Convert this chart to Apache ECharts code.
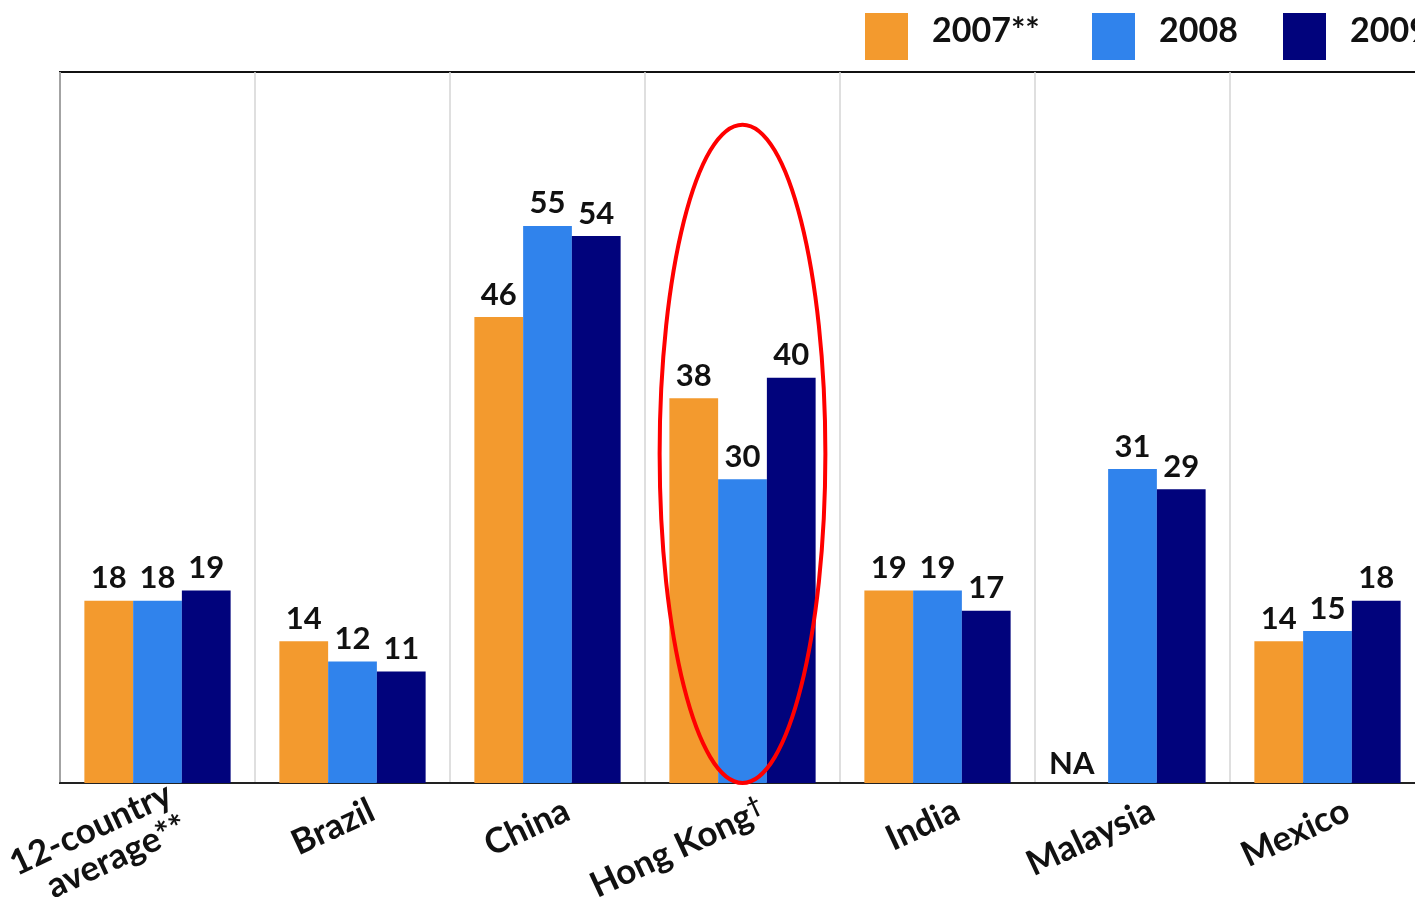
<!DOCTYPE html>
<html><head><meta charset="utf-8">
<script src="https://cdn.jsdelivr.net/npm/echarts@6/dist/echarts.min.js"></script>
<style>html,body{margin:0;padding:0;background:#fff}#c{width:1415px;height:918px}</style>
</head><body><div id="c"></div>
<script>
const categories = ['12-country\naverage**', 'Brazil', 'China', 'Hong Kong†', 'India', 'Malaysia', 'Mexico'];
const seriesNames = ['2007**', '2008', '2009'];
const y2007 = [18, 14, 46, 38, 19, null, 14];
const y2008 = [18, 12, 55, 30, 19, 31, 15];
const y2009 = [19, 11, 54, 40, 17, 29, 18];
const highlightCategory = 'Hong Kong†';

const colors = ['#F39A2E', '#3083EC', '#01037C'];
const FONT = 'Lato, "Liberation Sans", Arial, sans-serif';

const chart = echarts.init(document.getElementById('c'), null, {renderer: 'canvas'});

function mkData(arr) {
  return arr.map(v => v === null
    ? {value: 0, label: {show: true, formatter: 'NA', offset: [-12, 0], distance: 4}}
    : v);
}
const allData = [y2007, y2008, y2009];

const legendLefts = [860, 1087, 1278];
const option = {
  animation: false,
  backgroundColor: '#fff',
  textStyle: {fontFamily: FONT},
  legend: seriesNames.map((n, i) => ({
    data: [n], left: legendLefts[i], top: 8,
    itemWidth: 43, itemHeight: 47, icon: 'rect',
    formatter: '{t|{name}}',
    textStyle: {fontFamily: FONT, fontSize: 34, fontWeight: 'bold', color: '#111', padding: [0, 0, 0, 19],
      rich: {t: {fontFamily: FONT, fontSize: 34, fontWeight: 'bold', color: '#111', padding: [0, 0, 10, 0]}}}
  })),
  grid: {left: 60, top: 72, width: 1365, bottom: 135, show: true, borderColor: '#111', borderWidth: 2,
         backgroundColor: 'transparent', outerBoundsMode: 'none', containLabel: false},
  xAxis: {
    type: 'category', data: categories,
    axisTick: {show: false},
    axisLine: {show: true, lineStyle: {color: '#222', width: 2}},
    splitLine: {show: true, interval: 0, lineStyle: {color: '#d4d4d4', width: 1.5}},
    axisLabel: {
      interval: 0, rotate: 25, margin: 35, fontSize: 35, fontWeight: 'bold', color: '#111', fontFamily: FONT,
      lineHeight: 36, padding: [0, -22, 0, 0],
      formatter: v => v.indexOf('†') >= 0 ? v.replace('†', '') + '{sup|†}' : v,
      rich: {sup: {fontSize: 23, fontWeight: 'bold', verticalAlign: 'top', padding: [0, 0, 18, 0], fontFamily: FONT, color: '#111'}}
    }
  },
  yAxis: {type: 'value', min: 0, max: 70.2, show: false, splitLine: {show: false}},
  series: seriesNames.map((n, i) => ({
    name: n, type: 'bar', data: mkData(allData[i]),
    barGap: '0%', barCategoryGap: '25%',
    itemStyle: {color: colors[i]},
    label: {show: true, position: 'top', distance: 7, fontSize: 31, fontWeight: 'bold', color: '#111', fontFamily: FONT}
  }))
};
chart.setOption(option);

const idx = categories.indexOf(highlightCategory);
const c = chart.convertToPixel({xAxisIndex: 0}, idx);
const yBottom = chart.convertToPixel({yAxisIndex: 0}, 0);
const yTop = chart.convertToPixel({yAxisIndex: 0}, 65);
const catW = chart.convertToPixel({xAxisIndex: 0}, 1) - chart.convertToPixel({xAxisIndex: 0}, 0);
chart.setOption({
  graphic: [{
    type: 'ellipse', z: 100,
    shape: {cx: c, cy: (yBottom + yTop) / 2, rx: catW * 0.425, ry: (yBottom - yTop) / 2},
    style: {fill: 'none', stroke: '#FF0000', lineWidth: 4}
  }]
});
</script></body></html>
